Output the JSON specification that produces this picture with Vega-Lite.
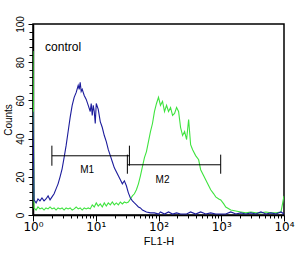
{
  "$schema": "https://vega.github.io/schema/vega-lite/v6.json",
  "width": 251,
  "height": 191,
  "autosize": "none",
  "padding": {"left": 33, "top": 24, "right": 21, "bottom": 41},
  "background": "white",
  "config": {
    "view": {"stroke": "black", "strokeWidth": 1.5},
    "font": "Liberation Sans",
    "axis": {"grid": false, "domainColor": "black", "tickColor": "black", "labelColor": "black", "titleColor": "black", "labelFont": "Liberation Sans", "titleFont": "Liberation Sans", "titleFontWeight": "normal"}
  },
  "datasets": {
    "blue": [
      {"x": 1, "y": 54},
      {"x": 1.04, "y": 7.9}, {"x": 1.12, "y": 6.3}, {"x": 1.2, "y": 8.4}, {"x": 1.29, "y": 7.4}, {"x": 1.39, "y": 8.9},
      {"x": 1.5, "y": 7.4}, {"x": 1.61, "y": 8.4}, {"x": 1.74, "y": 10.0}, {"x": 1.87, "y": 7.9}, {"x": 2.01, "y": 9.5},
      {"x": 2.17, "y": 11.1}, {"x": 2.33, "y": 13.7}, {"x": 2.51, "y": 16.3}, {"x": 2.7, "y": 20.0}, {"x": 2.91, "y": 24.2},
      {"x": 3.13, "y": 30.0}, {"x": 3.37, "y": 36.3}, {"x": 3.63, "y": 43.7}, {"x": 3.91, "y": 51.1}, {"x": 4.21, "y": 57.4},
      {"x": 4.53, "y": 61.6}, {"x": 4.88, "y": 64.2}, {"x": 5.25, "y": 67.9}, {"x": 5.45, "y": 65.8}, {"x": 5.65, "y": 69.5},
      {"x": 5.86, "y": 64.7}, {"x": 6.08, "y": 65.8}, {"x": 6.55, "y": 62.6}, {"x": 7.05, "y": 60.5}, {"x": 7.59, "y": 57.4},
      {"x": 8.17, "y": 54.2}, {"x": 8.47, "y": 58.4}, {"x": 8.79, "y": 52.1}, {"x": 9.12, "y": 57.4}, {"x": 9.46, "y": 54.2},
      {"x": 9.82, "y": 47.9}, {"x": 10.19, "y": 58.4}, {"x": 10.96, "y": 55.3}, {"x": 11.8, "y": 48.9}, {"x": 12.71, "y": 45.8},
      {"x": 13.68, "y": 41.6}, {"x": 14.72, "y": 38.4}, {"x": 15.85, "y": 34.2}, {"x": 17.06, "y": 31.1}, {"x": 18.37, "y": 27.9},
      {"x": 19.77, "y": 24.7}, {"x": 21.28, "y": 22.6}, {"x": 22.91, "y": 20.5}, {"x": 24.66, "y": 18.4}, {"x": 26.55, "y": 16.3},
      {"x": 28.58, "y": 17.9}, {"x": 30.76, "y": 15.3}, {"x": 33.11, "y": 11.6}, {"x": 35.65, "y": 8.9}, {"x": 38.37, "y": 7.4},
      {"x": 41.3, "y": 6.3}, {"x": 44.46, "y": 5.3}, {"x": 47.86, "y": 4.2}, {"x": 51.52, "y": 3.7}, {"x": 55.46, "y": 2.6},
      {"x": 59.7, "y": 2.1}, {"x": 64.27, "y": 1.6}, {"x": 74.47, "y": 1.1}, {"x": 86.3, "y": 1.1}, {"x": 100, "y": 0.5},
      {"x": 107.6, "y": 1.6}, {"x": 124.7, "y": 0.5}, {"x": 144.5, "y": 1.6}, {"x": 167.5, "y": 0.5}, {"x": 194.1, "y": 1.1},
      {"x": 224.9, "y": 0.5}, {"x": 280.5, "y": 0.5}, {"x": 325.1, "y": 1.6}, {"x": 390.8, "y": 0.5}, {"x": 469.9, "y": 1.6},
      {"x": 564.9, "y": 0.5}, {"x": 679.2, "y": 1.1}, {"x": 816.6, "y": 0.5}, {"x": 981.7, "y": 0.5}, {"x": 1180, "y": 0.5},
      {"x": 1419, "y": 1.6}, {"x": 1706, "y": 0.5}, {"x": 2051, "y": 1.1}, {"x": 2466, "y": 0.5}, {"x": 2965, "y": 1.1},
      {"x": 3565, "y": 0.5}, {"x": 4285, "y": 1.6}, {"x": 5152, "y": 0.5}, {"x": 6194, "y": 1.1}, {"x": 7447, "y": 0.5},
      {"x": 8954, "y": 1.6}, {"x": 10000, "y": 0.5}
    ],
    "green": [
      {"x": 1, "y": 85.8},
      {"x": 1.04, "y": 3.7}, {"x": 1.12, "y": 2.6}, {"x": 1.2, "y": 4.2}, {"x": 1.29, "y": 3.2}, {"x": 1.39, "y": 3.7},
      {"x": 1.5, "y": 2.6}, {"x": 1.61, "y": 3.7}, {"x": 1.74, "y": 3.2}, {"x": 1.87, "y": 4.2}, {"x": 2.01, "y": 3.2},
      {"x": 2.17, "y": 3.7}, {"x": 2.33, "y": 2.6}, {"x": 2.51, "y": 3.7}, {"x": 2.7, "y": 3.2}, {"x": 2.91, "y": 3.7},
      {"x": 3.13, "y": 2.6}, {"x": 3.37, "y": 3.7}, {"x": 3.63, "y": 3.2}, {"x": 3.91, "y": 3.7}, {"x": 4.21, "y": 2.6},
      {"x": 4.53, "y": 3.2}, {"x": 4.88, "y": 4.2}, {"x": 5.25, "y": 3.2}, {"x": 5.65, "y": 3.7}, {"x": 6.08, "y": 2.6},
      {"x": 6.55, "y": 3.7}, {"x": 7.05, "y": 3.2}, {"x": 7.59, "y": 3.7}, {"x": 8.17, "y": 3.2}, {"x": 8.79, "y": 5.3},
      {"x": 9.46, "y": 4.2}, {"x": 10.19, "y": 6.3}, {"x": 10.96, "y": 4.7}, {"x": 11.8, "y": 5.8}, {"x": 12.71, "y": 4.2},
      {"x": 13.68, "y": 6.3}, {"x": 14.72, "y": 4.7}, {"x": 15.85, "y": 6.3}, {"x": 17.06, "y": 5.3}, {"x": 18.37, "y": 6.8},
      {"x": 19.77, "y": 5.3}, {"x": 21.28, "y": 6.3}, {"x": 22.91, "y": 5.3}, {"x": 24.66, "y": 6.8}, {"x": 26.55, "y": 5.8},
      {"x": 28.58, "y": 6.8}, {"x": 30.76, "y": 6.3}, {"x": 33.11, "y": 6.8}, {"x": 35.65, "y": 8.4}, {"x": 38.37, "y": 10.0},
      {"x": 41.3, "y": 11.1}, {"x": 44.46, "y": 13.2}, {"x": 47.86, "y": 16.3}, {"x": 51.52, "y": 20.5}, {"x": 55.46, "y": 25.3},
      {"x": 59.7, "y": 30.0}, {"x": 64.27, "y": 33.2}, {"x": 69.18, "y": 38.4}, {"x": 74.47, "y": 43.7}, {"x": 80.17, "y": 47.9},
      {"x": 86.3, "y": 54.2}, {"x": 92.9, "y": 58.4}, {"x": 100, "y": 61.6}, {"x": 107.6, "y": 57.4}, {"x": 115.9, "y": 59.5},
      {"x": 124.7, "y": 54.2}, {"x": 134.3, "y": 57.4}, {"x": 144.5, "y": 54.2}, {"x": 155.6, "y": 56.3}, {"x": 167.5, "y": 52.1},
      {"x": 180.3, "y": 53.2}, {"x": 194.1, "y": 56.3}, {"x": 208.9, "y": 54.2}, {"x": 224.9, "y": 45.8}, {"x": 242.1, "y": 41.6},
      {"x": 260.6, "y": 43.7}, {"x": 280.5, "y": 39.5}, {"x": 302, "y": 50.0}, {"x": 325.1, "y": 36.8}, {"x": 349.9, "y": 34.2},
      {"x": 390.8, "y": 31.1}, {"x": 436.5, "y": 28.9}, {"x": 469.9, "y": 23.7}, {"x": 524.8, "y": 20.5}, {"x": 564.9, "y": 18.4},
      {"x": 631, "y": 15.3}, {"x": 679.2, "y": 13.2}, {"x": 758.6, "y": 11.1}, {"x": 816.6, "y": 9.5}, {"x": 912, "y": 8.4},
      {"x": 981.7, "y": 7.9}, {"x": 1096, "y": 5.8}, {"x": 1180, "y": 4.2}, {"x": 1419, "y": 2.6}, {"x": 1706, "y": 2.1},
      {"x": 2051, "y": 1.6}, {"x": 2466, "y": 1.1}, {"x": 2965, "y": 1.6}, {"x": 3565, "y": 1.1}, {"x": 4285, "y": 1.1},
      {"x": 5152, "y": 1.6}, {"x": 6194, "y": 1.1}, {"x": 7447, "y": 1.1}, {"x": 8954, "y": 1.6}, {"x": 10000, "y": 10}
    ],
    "markers": [
      {"name": "M1", "x1": 2.0, "x2": 34.4, "y": 31, "lo": 25.8, "hi": 36.3, "lx": 7.3, "ly": 23.7},
      {"name": "M2", "x1": 31.9, "x2": 980, "y": 26.3, "lo": 21.6, "hi": 31.6, "lx": 116, "ly": 18.4}
    ],
    "note": [{"x": 1.56, "y": 88, "t": "control"}]
  },
  "layer": [
    {
      "data": {"name": "green"},
      "mark": {"type": "line", "color": "#3fe33f", "strokeWidth": 1.1, "clip": true},
      "encoding": {
        "x": {"field": "x", "type": "quantitative",
          "scale": {"type": "log", "domain": [1, 10000], "nice": false},
          "axis": {
            "title": "FL1-H", "titleFontSize": 11, "titlePadding": 3,
            "tickCount": 100,
            "values": [1,2,3,4,5,6,7,8,9,10,20,30,40,50,60,70,80,90,100,200,300,400,500,600,700,800,900,1000,2000,3000,4000,5000,6000,7000,8000,9000,10000],
            "labelExpr": "datum.value == 1 ? '10⁰' : datum.value == 10 ? '10¹' : datum.value == 100 ? '10²' : datum.value == 1000 ? '10³' : datum.value == 10000 ? '10⁴' : ''",
            "labelFont": "DejaVu Sans",
            "labelFontSize": 12, "labelPadding": 0, "labelFlush": false, "labelOverlap": false,
            "tickSize": {"condition": {"test": "indexof([1,10,100,1000,10000], datum.value) >= 0", "value": 6}, "value": 3},
            "domainWidth": 1.5
          }},
        "y": {"field": "y", "type": "quantitative",
          "scale": {"domain": [0, 100], "nice": false},
          "axis": {
            "title": "Counts", "titleFontSize": 10, "titlePadding": 2,
            "tickCount": 100,
            "values": [0,4,8,12,16,20,24,28,32,36,40,44,48,52,56,60,64,68,72,76,80,84,88,92,96,100],
            "labelExpr": "datum.value % 20 == 0 ? datum.label : ''",
            "labelOverlap": false,
            "labelAngle": -90, "labelAlign": "center", "labelBaseline": "bottom", "labelFontSize": 10, "labelPadding": 3,
            "tickSize": {"condition": {"test": "datum.value % 20 == 0", "value": 5}, "value": 4},
            "domainWidth": 1.5
          }}
      }
    },
    {
      "data": {"name": "blue"},
      "mark": {"type": "line", "color": "#1c1c9c", "strokeWidth": 1.1, "clip": true},
      "encoding": {
        "x": {"field": "x", "type": "quantitative"},
        "y": {"field": "y", "type": "quantitative"}
      }
    },
    {
      "data": {"name": "markers"},
      "mark": {"type": "rule", "color": "black", "strokeWidth": 1},
      "encoding": {
        "x": {"field": "x1", "type": "quantitative"},
        "x2": {"field": "x2"},
        "y": {"field": "y", "type": "quantitative"}
      }
    },
    {
      "data": {"name": "markers"},
      "mark": {"type": "rule", "color": "black", "strokeWidth": 1},
      "encoding": {
        "x": {"field": "x1", "type": "quantitative"},
        "y": {"field": "lo", "type": "quantitative"},
        "y2": {"field": "hi"}
      }
    },
    {
      "data": {"name": "markers"},
      "mark": {"type": "rule", "color": "black", "strokeWidth": 1},
      "encoding": {
        "x": {"field": "x2", "type": "quantitative"},
        "y": {"field": "lo", "type": "quantitative"},
        "y2": {"field": "hi"}
      }
    },
    {
      "data": {"name": "markers"},
      "mark": {"type": "text", "fontSize": 10, "color": "black", "align": "center", "baseline": "middle"},
      "encoding": {
        "x": {"field": "lx", "type": "quantitative"},
        "y": {"field": "ly", "type": "quantitative"},
        "text": {"field": "name"}
      }
    },
    {
      "data": {"name": "note"},
      "mark": {"type": "text", "fontSize": 12, "color": "black", "align": "left", "baseline": "middle"},
      "encoding": {
        "x": {"field": "x", "type": "quantitative"},
        "y": {"field": "y", "type": "quantitative"},
        "text": {"field": "t"}
      }
    }
  ]
}
